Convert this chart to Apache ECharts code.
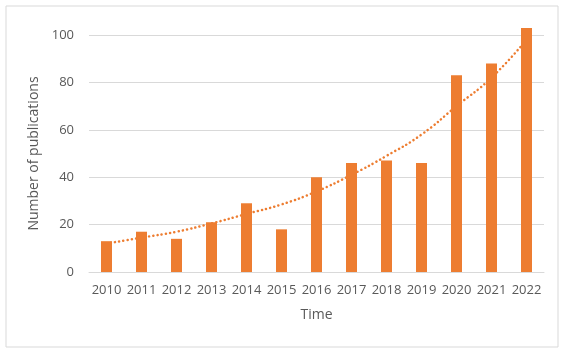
<!DOCTYPE html>
<html>
<head>
<meta charset="utf-8">
<script src="https://cdn.jsdelivr.net/npm/echarts@6/dist/echarts.min.js"></script>
<style>
  html, body { margin: 0; padding: 0; background: #fff; }
  #chart { width: 568px; height: 350px; }
</style>
</head>
<body>
<div id="chart"></div>
<script>
// data
const years = ['2010', '2011', '2012', '2013', '2014', '2015', '2016', '2017', '2018', '2019', '2020', '2021', '2022'];
const publications = [13, 17, 14, 21, 29, 18, 40, 46, 47, 46, 83, 88, 103];
// dotted exponential trend line, values read at each year
const trend = [12, 14.5, 17, 20.5, 24.5, 28.5, 34, 41, 49, 58, 70, 82, 98];
const yTicks = [0, 20, 40, 60, 80, 100];

const textColor = '#595959';
const font = '"Open Sans", "Liberation Sans", sans-serif';

const chart = echarts.init(document.getElementById('chart'));
chart.setOption({
    animation: false,
    backgroundColor: '#fff',
    graphic: [{
        type: 'rect',
        shape: { x: 6, y: 6, width: 552, height: 341 },
        style: { fill: 'none', stroke: '#d9d9d9', lineWidth: 1 },
        z: -1
    }],
    grid: { left: 89, right: 24, top: 35, bottom: 78 },
    xAxis: {
        type: 'category',
        data: years,
        name: 'Time',
        nameLocation: 'middle',
        nameGap: 36,
        nameTextStyle: { color: textColor, fontSize: 14, fontFamily: font },
        axisLine: { show: true, lineStyle: { color: '#d9d9d9' } },
        axisTick: { show: false },
        axisLabel: { color: textColor, fontSize: 13, fontFamily: font, margin: 12, interval: 0 }
    },
    yAxis: {
        type: 'value',
        min: yTicks[0],
        max: yTicks[yTicks.length - 1],
        interval: 20,
        name: 'Number of publications',
        nameLocation: 'middle',
        nameGap: 39,
        nameTextStyle: { color: textColor, fontSize: 14, fontFamily: font },
        axisLine: { show: false },
        axisTick: { show: false },
        axisLabel: { color: textColor, fontSize: 13, fontFamily: font, margin: 15 },
        splitLine: { lineStyle: { color: '#d9d9d9', width: 1 } }
    },
    series: [
        {
            type: 'line',
            data: trend,
            smooth: true,
            symbol: 'none',
            z: 1,
            lineStyle: { color: '#ED7D31', width: 2.5, type: [0.1, 4.2], cap: 'round' }
        },
        {
            type: 'bar',
            data: publications,
            barWidth: 11,
            clip: false,
            z: 2,
            itemStyle: { color: '#ED7D31' }
        }
    ]
});
</script>
</body>
</html>
